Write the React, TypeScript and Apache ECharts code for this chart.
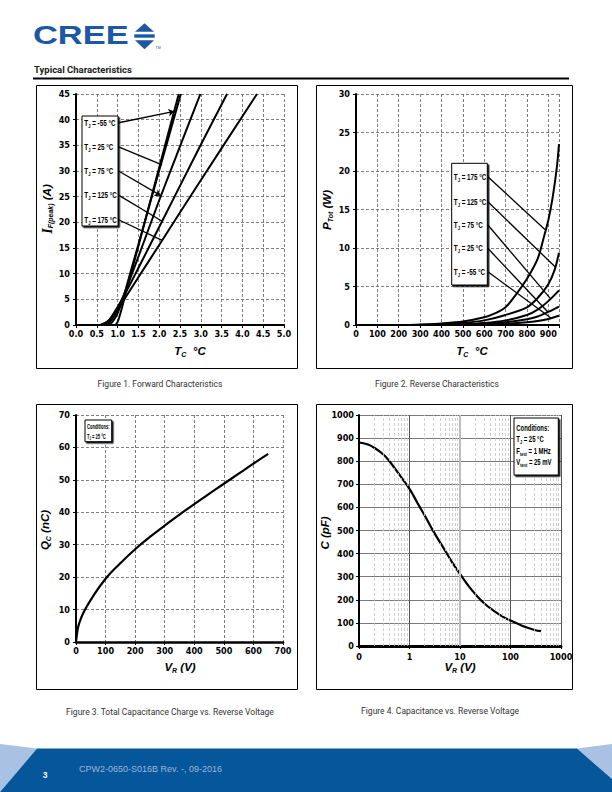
import React, { useEffect, useRef } from 'react';
import * as echarts from 'echarts';

const NARROW = "'Liberation Sans Narrow','Arial Narrow','DejaVu Sans Condensed','Roboto Condensed','Liberation Sans',sans-serif";
const SANS = "'Liberation Sans', Arial, sans-serif";
const SERIF = "'Liberation Serif', 'DejaVu Serif', serif";
const ROBOTO = "Roboto, 'Liberation Sans', sans-serif";

// ---------- Figure 1: forward characteristics ----------
const fwdM55: [number, number][] = [[0.95, 0], [1.0, 0.6], [1.05, 1.8], [1.1, 3.2], [1.2, 6.3], [1.5, 15.4], [2.0, 30.7], [2.47, 45]];
const fwd25: [number, number][] = [[0.75, 0], [0.85, 0.4], [0.95, 1.5], [1.05, 3.3], [1.15, 5.7], [1.3, 10], [1.5, 15.7], [2.0, 30.1], [2.52, 45]];
const fwd75: [number, number][] = [[0.68, 0], [0.8, 0.5], [0.9, 1.5], [1.0, 3.0], [1.1, 4.9], [1.2, 6.9], [1.5, 13.3], [2.0, 24.3], [2.5, 34.8], [2.99, 45]];
const fwd125: [number, number][] = [[0.62, 0], [0.7, 0.3], [0.8, 1.0], [0.9, 2.2], [1.0, 3.5], [1.2, 6.4], [1.5, 11.1], [2.0, 19.1], [3.0, 35.1], [3.63, 45]];
const fwd175: [number, number][] = [[0.58, 0], [0.7, 0.4], [0.8, 1.0], [0.9, 2.0], [1.0, 3.0], [1.2, 5.5], [1.5, 9.3], [2.0, 15.6], [3.0, 28.2], [4.35, 45]];
const fwdLabels = ['-55', '25', '75', '125', '175'];
const fwdLeaders: [number, number][][] = [
  [[1.024, 39.4], [2.364, 41.6]],
  [[1.024, 34.7], [2.07, 31.2]],
  [[1.024, 30.0], [2.04, 25.2]],
  [[1.024, 25.3], [2.07, 20.2]],
  [[1.024, 20.5], [2.07, 16.5]],
];
const fwdArrow = [true, false, true, false, false];

// ---------- Figure 2: reverse characteristics ----------
const rev175: [number, number][] = [[250, 0], [300, 0.05], [400, 0.2], [500, 0.45], [600, 1.0], [650, 1.5], [700, 2.3], [750, 4.0], [800, 6.0], [850, 8.6], [880, 11.5], [900, 13.6], [920, 16.5], [940, 20.5], [950, 23.5]];
const rev125: [number, number][] = [[300, 0.02], [400, 0.08], [500, 0.25], [600, 0.6], [700, 1.3], [800, 2.3], [850, 3.5], [900, 5.3], [930, 7.2], [950, 9.4]];
const rev75: [number, number][] = [[400, 0.02], [500, 0.08], [600, 0.25], [700, 0.6], [800, 1.3], [850, 2.0], [900, 3.1], [950, 4.5]];
const rev25: [number, number][] = [[500, 0.05], [600, 0.15], [700, 0.35], [800, 0.75], [850, 1.1], [900, 1.7], [950, 2.4]];
const revM55: [number, number][] = [[500, 0.02], [600, 0.06], [700, 0.15], [800, 0.35], [850, 0.52], [900, 0.78], [950, 1.2]];
const revLabels = ['175', '125', '75', '25', '-55'];
const revLeaders: [number, number][][] = [
  [[617, 19.26], [884, 12.4]],
  [[617, 16.0], [934, 7.5]],
  [[617, 12.99], [911, 3.4]],
  [[617, 9.96], [898, 1.68]],
  [[617, 6.92], [914, 0.88]],
];

// ---------- Figure 3: total capacitance charge ----------
const qcCurve: [number, number][] = [[0, 0], [5, 3.5], [10, 5.5], [25, 9], [50, 13], [100, 19.5], [150, 24.3], [200, 28.6], [250, 32.4], [300, 35.9], [350, 39.3], [400, 42.5], [450, 45.7], [500, 48.8], [550, 51.9], [600, 55], [650, 58]];

// ---------- Figure 4: capacitance vs reverse voltage ----------
const capCurve: [number, number][] = [[0.1, 881], [0.15, 872], [0.2, 858], [0.3, 830], [0.4, 800], [0.5, 772], [0.7, 728], [1, 680], [1.5, 612], [2, 565], [3, 495], [5, 415], [7, 362], [10, 312], [15, 258], [20, 225], [30, 185], [50, 148], [70, 127], [100, 110], [150, 93], [200, 82], [300, 69], [400, 64]];
const capMinor: number[] = [0.2, 0.3, 0.4, 0.5, 0.6, 0.7, 0.8, 0.9, 2, 3, 4, 5, 6, 7, 8, 9, 20, 30, 40, 50, 60, 70, 80, 90, 200, 300, 400, 500, 600, 700, 800, 900];

const captions = [
  'Figure 1. Forward Characteristics',
  'Figure 2. Reverse Characteristics',
  'Figure 3. Total Capacitance Charge vs. Reverse Voltage',
  'Figure 4. Capacitance vs. Reverse Voltage',
];

const labelStyle = { color: '#000', fontFamily: NARROW, fontWeight: 'bold' as const, fontSize: 9 };
const dashGrid = { color: '#5e5e5e', width: 0.8, type: [3, 2] as number[] };
const solidGrid = { color: '#555', width: 0.8, type: 'solid' as const };

function valAxis(gridIndex: number, min: number, max: number, interval: number, opts: any = {}) {
  return {
    gridIndex,
    type: 'value',
    min,
    max,
    interval,
    axisLine: { show: true, onZero: false, lineStyle: { color: '#000', width: opts.axisWidth || 2 } },
    axisTick: { show: true, length: 3, lineStyle: { color: '#000', width: 1 } },
    axisLabel: { ...labelStyle, margin: opts.margin ?? 5, formatter: opts.formatter || ((v: number) => String(v)) },
    splitLine: { show: true, lineStyle: opts.split || dashGrid },
  };
}

const rT = { fontFamily: SANS, fontWeight: 'bold', fontStyle: 'italic', fontSize: 11.5, fill: '#000', lineHeight: 14 };
const rS = { fontFamily: SANS, fontWeight: 'bold', fontStyle: 'italic', fontSize: 7, fill: '#000', lineHeight: 9, verticalAlign: 'bottom' };
const rI = { fontFamily: SERIF, fontWeight: 'bold', fontStyle: 'italic', fontSize: 14, fill: '#000', lineHeight: 14 };
const titleRich = { t: rT, s: rS, i: rI };

function annRich(size: number) {
  return {
    a: { fontFamily: SANS, fontWeight: 'bold', fontSize: size, fill: '#000', lineHeight: size + 2 },
    s: { fontFamily: SANS, fontWeight: 'bold', fontSize: size * 0.66, fill: '#000', lineHeight: size * 0.8, verticalAlign: 'bottom' },
  };
}

function title(x: number, y: number, text: string, vertical = false) {
  return {
    type: 'text', x, y, rotation: vertical ? Math.PI / 2 : 0, z: 20,
    style: { text, rich: titleRich, align: 'center', verticalAlign: 'middle' },
  };
}
function ann(x: number, y: number, text: string, size = 9, sx = 0.7) {
  return { type: 'text', x, y, z: 21, scaleX: sx, style: { text, rich: annRich(size), align: 'left', verticalAlign: 'middle' } };
}
function box(x: number, y: number, w: number, h: number, z = 0, fill = 'none', shadow = false) {
  return {
    type: 'rect', z, shape: { x, y, width: w, height: h },
    style: { fill, stroke: '#000', lineWidth: 1, ...(shadow ? { shadowColor: 'rgba(0,0,0,0.9)', shadowOffsetX: 1.5, shadowOffsetY: 1.5, shadowBlur: 0 } : {}) },
  };
}
function caption(x: number, y: number, text: string) {
  return { type: 'text', x, y, style: { text, fontFamily: ROBOTO, fontSize: 8.5, fill: '#333', align: 'center', verticalAlign: 'middle' } };
}

function curve(data: [number, number][], idx: number) {
  return {
    type: 'line', xAxisIndex: idx, yAxisIndex: idx, data, symbol: 'none', smooth: 0.3, silent: true,
    lineStyle: { color: '#000', width: 2 }, z: 3,
  };
}
function leaders(list: [number, number][][], idx: number, arrow: boolean) {
  return {
    type: 'lines', coordinateSystem: 'cartesian2d', xAxisIndex: idx, yAxisIndex: idx, silent: true, z: 4,
    symbol: arrow ? ['none', 'arrow'] : ['none', 'none'], symbolSize: 6,
    lineStyle: { color: '#000', width: 1.3, opacity: 1, curveness: 0 },
    data: list.map((c) => ({ coords: c })),
  };
}

export default function App() {
  const ref = useRef<HTMLDivElement>(null);
  useEffect(() => {
    if (!ref.current) return;
    const chart = echarts.init(ref.current, undefined, { renderer: 'svg' });

    const graphics: any[] = [
      // logo
      { type: 'text', x: 33, y: 34.8, scaleX: 1.3, style: { text: 'CREE', fontFamily: SANS, fontWeight: 'bold', fontSize: 26.5, fill: '#1c58a3', align: 'left', verticalAlign: 'middle' } },
      { type: 'polygon', shape: { points: [[135, 31.7], [144.5, 23.3], [154, 31.7]] }, style: { fill: '#1c58a3' } },
      { type: 'rect', shape: { x: 134.3, y: 34.3, width: 20.4, height: 3.4 }, style: { fill: '#1c58a3' } },
      { type: 'polygon', shape: { points: [[135, 40.3], [154, 40.3], [144.5, 49.3]] }, style: { fill: '#1c58a3' } },
      { type: 'text', x: 155.5, y: 47.5, style: { text: 'TM', fontFamily: SANS, fontSize: 3.5, fill: '#1c58a3', align: 'left', verticalAlign: 'middle' } },
      // header
      { type: 'text', x: 34, y: 69.5, style: { text: 'Typical Characteristics', fontFamily: ROBOTO, fontWeight: 'bold', fontSize: 9.5, fill: '#222', align: 'left', verticalAlign: 'middle' } },
      { type: 'line', shape: { x1: 33, y1: 78.5, x2: 569, y2: 78.5 }, style: { stroke: '#000', lineWidth: 2 } },
      // panel frames
      box(36.5, 85.5, 261, 283),
      box(316.5, 85.5, 256, 283),
      box(36.5, 404.5, 261, 285),
      box(316.5, 404.5, 256, 285),
      // captions
      caption(160, 384, captions[0]),
      caption(437, 384, captions[1]),
      caption(170, 712, captions[2]),
      caption(440, 711, captions[3]),
      // axis titles
      title(47, 209, '{i|I}{s|F(peak)}{t| (A)}', true),
      title(190, 351, '{t|T}{s|C}{t|  °C}'),
      title(327, 210, '{t|P}{s|Tot}{t| (W)}', true),
      title(472, 351, '{t|T}{s|C}{t|  °C}'),
      title(45, 530, '{t|Q}{s|C}{t| (nC)}', true),
      title(180, 667, '{t|V}{s|R}{t| (V)}'),
      title(325, 533, '{t|C (pF)}', true),
      title(460, 667, '{t|V}{s|R}{t| (V)}'),
      // fig1 annotation box
      box(82, 116, 36, 110, 10, '#fff', true),
      ...fwdLabels.map((t, i) => ann(84.3, [122.7, 146.7, 171, 195, 220][i], `{a|T}{s|J}{a| = ${t} °C}`)),
      // fig2 annotation box
      box(451.7, 163.3, 35.6, 121.7, 10, '#fff', true),
      ...revLabels.map((t, i) => ann(453.8, [176.7, 201.7, 225, 248.3, 271.7][i], `{a|T}{s|J}{a| = ${t} °C}`)),
      // fig3 conditions
      box(85, 420, 26.7, 21.7, 10, '#fff', true),
      ann(87, 426.5, '{a|Conditions:}', 7, 0.58),
      ann(87, 436.3, '{a|T}{s|J}{a| = 25 °C}', 7, 0.58),
      // fig4 conditions
      box(514, 418, 44.3, 57, 10, '#fff', true),
      ann(516.3, 428, '{a|Conditions:}', 9, 0.66),
      ann(516.3, 439.5, '{a|T}{s|J}{a| = 25 °C}', 9, 0.66),
      ann(516.3, 451, '{a|F}{s|test}{a| = 1 MHz}', 9, 0.66),
      ann(516.3, 462.5, '{a|V}{s|test}{a| = 25 mV}', 9, 0.66),
      // footer
      { type: 'polygon', shape: { points: [[0, 744], [37, 748.6], [0, 792]] }, style: { fill: '#a9c2e4' } },
      { type: 'polygon', shape: { points: [[612, 744], [577, 748.6], [612, 779]] }, style: { fill: '#a9c2e4' } },
      { type: 'polygon', shape: { points: [[37, 748.6], [577, 748.6], [612, 779], [612, 792], [0, 792]] }, style: { fill: '#05569b' } },
      { type: 'text', x: 45, y: 775, style: { text: '3', fontFamily: SANS, fontWeight: 'bold', fontSize: 8.5, fill: '#fff', align: 'center', verticalAlign: 'middle' } },
      { type: 'text', x: 79, y: 768.5, style: { text: 'CPW2-0650-S016B Rev. -, 09-2016', fontFamily: SANS, fontSize: 9, fill: '#9fb6d8', align: 'left', verticalAlign: 'middle' } },
    ];

    const option: any = {
      animation: false,
      backgroundColor: '#fff',
      grid: [
        { left: 76, top: 94, width: 208, height: 231 },
        { left: 356, top: 94, width: 203, height: 231 },
        { left: 76, top: 415, width: 207, height: 227 },
        { left: 359, top: 415, width: 202, height: 231 },
      ],
      xAxis: [
        valAxis(0, 0, 5, 0.5, { margin: 4, formatter: (v: number) => v.toFixed(1) }),
        valAxis(1, 0, 950, 100, { margin: 4, formatter: (v: number) => (v > 900 ? '' : String(v)) }),
        valAxis(2, 0, 700, 100, { margin: 4, axisWidth: 2.5 }),
        {
          gridIndex: 3, type: 'log', logBase: 10, min: 0.1, max: 1000,
          axisLine: { show: true, onZero: false, lineStyle: { color: '#000', width: 3 } },
          axisTick: { show: true, length: 3, lineStyle: { color: '#000', width: 1 } },
          axisLabel: { ...labelStyle, margin: 6, formatter: (v: number) => (v < 0.5 ? '0' : String(Math.round(v))) },
          splitLine: { show: true, lineStyle: { color: '#555', width: 1 } },
        },
      ],
      yAxis: [
        valAxis(0, 0, 45, 5, { margin: 6 }),
        valAxis(1, 0, 30, 5, { margin: 6 }),
        valAxis(2, 0, 70, 10, { margin: 6 }),
        valAxis(3, 0, 1000, 100, { margin: 5, split: solidGrid }),
      ],
      series: [
        curve(fwdM55, 0), curve(fwd25, 0), curve(fwd75, 0), curve(fwd125, 0), curve(fwd175, 0),
        leaders(fwdLeaders.filter((_, i) => fwdArrow[i]), 0, true),
        leaders(fwdLeaders.filter((_, i) => !fwdArrow[i]), 0, false),
        curve(rev175, 1), curve(rev125, 1), curve(rev75, 1), curve(rev25, 1), curve(revM55, 1),
        leaders(revLeaders, 1, false),
        { ...curve(qcCurve, 2), smooth: 0.5, lineStyle: { color: '#000', width: 2.2 } },
        {
          type: 'line', xAxisIndex: 3, yAxisIndex: 3, data: capCurve, symbol: 'none', silent: true, z: 1,
          lineStyle: { opacity: 0 },
          markLine: {
            silent: true, symbol: 'none', label: { show: false },
            lineStyle: { color: '#c4c4c4', width: 0.8, type: [3, 2] },
            data: [
              ...capMinor.map((v) => ({ xAxis: v })),
              { xAxis: 10, lineStyle: { color: '#bdbdbd', width: 2, type: 'solid' } },
            ],
          },
        },
        { ...curve(capCurve, 3), smooth: 0.5, lineStyle: { color: '#000', width: 2.2 } },
      ],
      graphic: { elements: graphics },
    };
    chart.setOption(option);
    return () => chart.dispose();
  }, []);
  return <div ref={ref} style={{ position: 'fixed', left: 0, top: 0, width: 612, height: 792, background: '#fff' }} />;
}
